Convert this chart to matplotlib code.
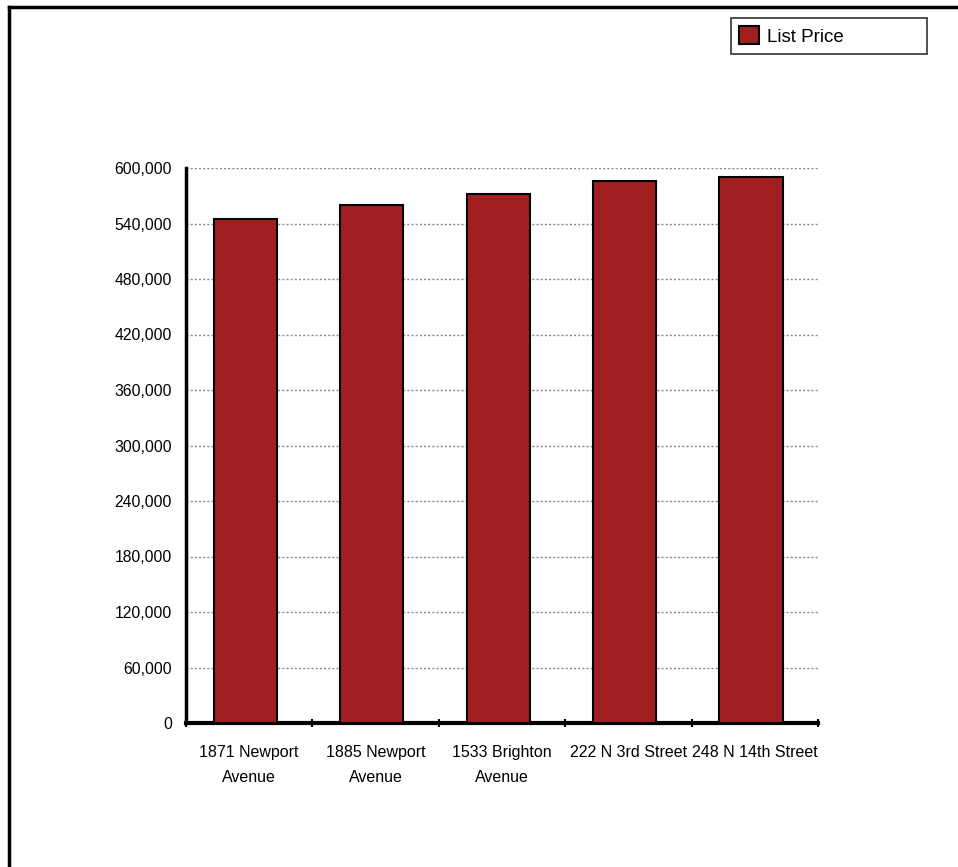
import matplotlib.pyplot as plt
from matplotlib.lines import Line2D
from matplotlib.ticker import FuncFormatter, MultipleLocator

# data
addresses = ['1871 Newport\nAvenue', '1885 Newport\nAvenue', '1533 Brighton\nAvenue',
             '222 N 3rd Street', '248 N 14th Street']
list_price = [545000, 560000, 572000, 586000, 590000]
series_name = 'List Price'

bar_color = '#A11F21'
plt.rcParams['font.family'] = ['Liberation Sans', 'DejaVu Sans']

fig = plt.figure(figsize=(9.58, 8.67), dpi=100)
ax = fig.add_axes([186/958, 1-723/867, (818-186)/958, (723-168)/867])

x = list(range(len(addresses)))
# bars sit slightly left of the category centre in the reference
ax.bar([i - 0.03 for i in x], list_price, width=0.5, color=bar_color,
       edgecolor='black', linewidth=1.5, label=series_name, zorder=3)

ax.set_xlim(-0.5, len(addresses)-0.5)
ax.set_ylim(0, 600000)
ax.yaxis.set_major_locator(MultipleLocator(60000))
ax.yaxis.set_major_formatter(FuncFormatter(lambda v, p: '{:,.0f}'.format(v)))
ax.grid(axis='y', linestyle=(0, (1.5, 1.5)), color='#888888', linewidth=1, zorder=0)

ax.set_xticks(x)
ax.set_xticklabels(addresses, fontsize=11.5, linespacing=1.8)
ax.set_xticks([i + 0.5 for i in range(-1, len(addresses))], minor=True)
ax.tick_params(axis='x', which='major', length=0, pad=16)
ax.tick_params(axis='x', which='minor', length=6, width=1.5, direction='inout')
ax.tick_params(axis='y', length=0, pad=10, labelsize=11.3)

for s in ['top', 'right']:
    ax.spines[s].set_visible(False)
ax.spines['left'].set_linewidth(2.5)
ax.spines['bottom'].set_linewidth(3)

leg = ax.legend(loc='upper left', bbox_to_anchor=(731/958, 1-54/867, (927-731)/958, 36/867),
                bbox_transform=fig.transFigure, mode='expand', borderaxespad=0,
                fancybox=False, framealpha=1, edgecolor='#333333', fontsize=13.5,
                handlelength=1.05, handleheight=1.05, handletextpad=0.4, borderpad=0.45)
leg.get_frame().set_linewidth(1.2)

# outer border (left and top only, as in the reference)
fig.add_artist(Line2D([9/958, 9/958], [0, 1-7/867], color='black', linewidth=2.5,
                      transform=fig.transFigure))
fig.add_artist(Line2D([9/958, 1], [1-7/867, 1-7/867], color='black', linewidth=2.5,
                      transform=fig.transFigure))

fig.savefig('out.png', dpi=100)
